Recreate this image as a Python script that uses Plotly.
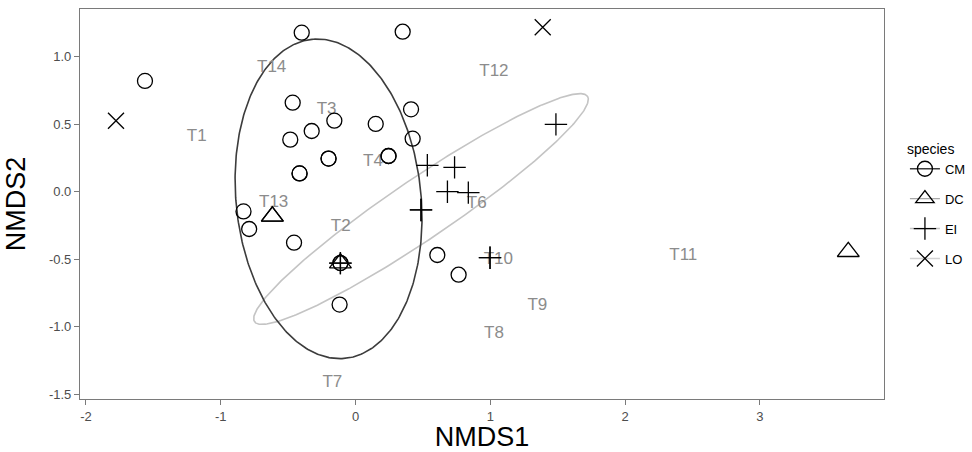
import numpy as np
import plotly.graph_objects as go

# ---- data ----
cm_x = [-1.562, -0.399, 0.350, -0.466, -0.157, -0.325, -0.484, 0.150, 0.412, 0.424,
        -0.200, -0.200, -0.415, -0.415, 0.245, 0.245, -0.831, -0.789, -0.456, -0.112,
        -0.112, -0.118, 0.607, 0.765]
cm_y = [0.819, 1.176, 1.183, 0.658, 0.525, 0.449, 0.385, 0.501, 0.609, 0.392,
        0.245, 0.245, 0.135, 0.135, 0.264, 0.264, -0.146, -0.276, -0.377, -0.528,
        -0.528, -0.835, -0.468, -0.614]

dc_x = [-0.617, -0.617, -0.112, 3.656]
dc_y = [-0.183, -0.183, -0.528, -0.444]

ei_x = [1.487, 0.533, 0.735, 0.682, 0.837, 0.486, 0.486, 0.998, 0.998, -0.112, -0.112]
ei_y = [0.498, 0.195, 0.180, 0.000, -0.007, -0.135, -0.135, -0.488, -0.488, -0.528, -0.528]

lo_x = [-1.777, 1.389]
lo_y = [0.525, 1.216]

site_labels = ["T1", "T2", "T3", "T4", "T6", "T7", "T8", "T9", "T10", "T11", "T12", "T13", "T14"]
site_x = [-1.178, -0.110, -0.214, 0.130, 0.899, -0.172, 1.027, 1.349, 1.060, 2.432, 1.027, -0.607, -0.622]
site_y = [0.407, -0.259, 0.609, 0.220, -0.091, -1.413, -1.047, -0.845, -0.505, -0.476, 0.888, -0.080, 0.913]

# ellipse parameters (centre x, centre y, semi-major, semi-minor, angle in degrees)
ell_cm = (-0.200, -0.053, 1.186, 0.686, 96.0)
ell_ei = (0.486, -0.128, 1.490, 0.222, 34.0)

x_tickvals = [-2, -1, 0, 1, 2, 3]
x_ticktext = ["-2", "-1", "0", "1", "2", "3"]
y_tickvals = [-1.5, -1.0, -0.5, 0.0, 0.5, 1.0]
y_ticktext = ["-1.5", "-1.0", "-0.5", "0.0", "0.5", "1.0"]

species = ["CM", "DC", "EI", "LO"]
legend_line_colors = ["#3c3c3c", "#a8a8a8", "#c4c4c4", "#d2d2d2"]
symbols = ["circle-open", "triangle-up-open", "cross-thin-open", "x-thin-open"]
sizes = [15, 19, 16, 16]

FONT = "Liberation Sans, Arial, Helvetica, sans-serif"


def ellipse(params, n=361):
    cx, cy, a, b, ang = params
    t = np.linspace(0, 2 * np.pi, n)
    th = np.deg2rad(ang)
    ex = cx + a * np.cos(t) * np.cos(th) - b * np.sin(t) * np.sin(th)
    ey = cy + a * np.cos(t) * np.sin(th) + b * np.sin(t) * np.cos(th)
    return ex, ey


fig = go.Figure()

ex, ey = ellipse(ell_ei)
fig.add_trace(go.Scatter(x=ex, y=ey, mode="lines", line=dict(color="#c4c4c4", width=1.6),
                         showlegend=False, hoverinfo="skip"))
ex, ey = ellipse(ell_cm)
fig.add_trace(go.Scatter(x=ex, y=ey, mode="lines", line=dict(color="#3c3c3c", width=1.6),
                         showlegend=False, hoverinfo="skip"))

fig.add_trace(go.Scatter(x=site_x, y=site_y, mode="text", text=site_labels,
                         textfont=dict(family=FONT, size=17, color="#8c8c8c"),
                         showlegend=False, hoverinfo="skip"))

pts = [(cm_x, cm_y), (dc_x, dc_y), (ei_x, ei_y), (lo_x, lo_y)]
for i, (sp, (xs, ys)) in enumerate(zip(species, pts)):
    fig.add_trace(go.Scatter(x=xs, y=ys, mode="markers", name=sp, legendgroup=sp,
                             marker=dict(symbol=symbols[i], size=sizes[i], color="black",
                                         line=dict(color="black", width=1.3)),
                             showlegend=False))
    fig.add_trace(go.Scatter(x=[None], y=[None], mode="lines+markers", name=sp, legendgroup=sp,
                             line=dict(color=legend_line_colors[i], width=1.4),
                             marker=dict(symbol=symbols[i], size=sizes[i], color="black",
                                         line=dict(color="black", width=1.3)),
                             showlegend=True))

axis_common = dict(showgrid=False, zeroline=False, showline=True, mirror=True,
                   linecolor="#7a7a7a", linewidth=1.2, ticks="outside", ticklen=5,
                   tickcolor="#7a7a7a", tickwidth=1.2,
                   tickfont=dict(family=FONT, size=13, color="#4d4d4d"), automargin=False)

fig.update_layout(
    width=972, height=452,
    margin=dict(l=80, r=88, t=9, b=53, autoexpand=False),
    paper_bgcolor="white", plot_bgcolor="white",
    xaxis=dict(range=[-2.044, 3.921], tickvals=x_tickvals, ticktext=x_ticktext,
               title=dict(text="NMDS1", font=dict(family=FONT, size=27, color="black"), standoff=9),
               **axis_common),
    yaxis=dict(range=[-1.533, 1.351], tickvals=y_tickvals, ticktext=y_ticktext,
               title=dict(text="NMDS2", font=dict(family=FONT, size=27, color="black"), standoff=15),
               **axis_common),
    legend=dict(x=0.931, xref="container", xanchor="left", y=0.70, yref="container", yanchor="top",
                title=dict(text="species", font=dict(family=FONT, size=14, color="black")),
                font=dict(family=FONT, size=13, color="black"),
                tracegroupgap=10, traceorder="grouped", bgcolor="rgba(0,0,0,0)"),
    showlegend=True,
)

fig.write_html("out.html",
               config={"displayModeBar": False, "responsive": False},
               post_script="document.body.style.margin='0px';document.body.style.overflow='hidden';")
